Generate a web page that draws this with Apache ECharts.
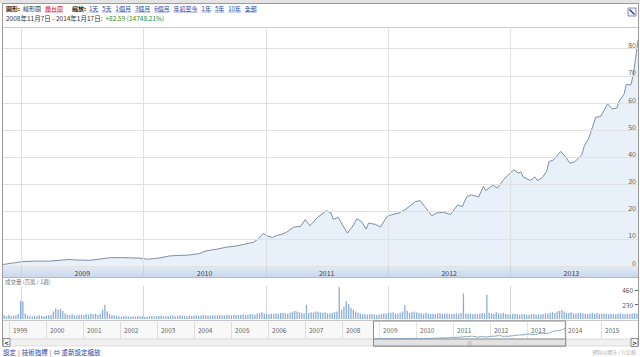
<!DOCTYPE html>
<html><head><meta charset="utf-8">
<script src="https://cdn.jsdelivr.net/npm/echarts@6/dist/echarts.min.js"></script>
<style>html,body{margin:0;padding:0;background:#fff}#c{width:640px;height:357px}</style>
</head><body><div id="c"></div>
<script>
// ---------- data ----------
const startDate = [2008, 11, 7];
const endDate = [2014, 1, 17];
const changeText = '+82.59 (14748.21%)';
const rangeText = '2008年11月7日 - 2014年1月17日:';
// price: week index from start date, weekly close
const priceWeek = [0,5,8,13,20,24,28,32,37,41,45,50,54,58,62,67,71,75,79,84,86,89,92,95,99,103,107,109,111,113,115,117,119,121,124,127,129,131,134,138,140,141,143,145,147,149,151,153,155,156,159,161,164,166,169,172,176,178,180,183,185,188,191,194,196,198,200,203,205,206,209,211,214,216,218,220,221,222,225,227,228,230,232,233,235,238,240,242,244,247,248,250,253,255,257,258,260,262,263,265,266,268,269,270,271];
const priceValue = [0.56,1.2,1.6,1.8,1.8,2.1,2.4,2.2,2.1,2.5,3.0,3.1,3.0,2.9,2.5,3.0,3.7,3.9,4.0,4.6,5.4,5.9,6.3,6.9,7.3,8.0,8.8,10.0,12.0,11.0,10.5,11.3,11.7,12.4,14.3,14.6,17.1,14.8,17.7,20.4,19.5,17.1,18.0,15.0,12.1,14.3,17.4,16.4,13.6,15.8,15.3,14.3,18.3,18.9,19.5,21.0,23.7,24.1,21.9,18.5,19.5,19.8,18.9,22.5,21.9,25.6,26.2,25.4,29.3,27.8,29.7,28.7,32.1,33.9,35.4,34.2,34.7,32.8,31.5,32.8,31.5,32.4,34.8,38.4,39.1,42.2,40.3,37.8,38.4,40.9,44.0,47.1,54.8,55.0,58.1,59.7,57.8,58.2,60.8,63.2,66.8,66.7,70.6,76.5,83.15];
// weekly volume (millions), one value per week from start date
const volumeValue = [
  60,45,70,50,55,60,80,290,280,90,
  55,45,40,50,45,60,50,45,55,60,
  70,120,170,150,160,130,90,70,60,80,
  60,55,70,65,60,80,70,90,75,85,
  70,90,150,230,120,80,60,55,50,45,
  40,45,50,40,35,45,40,50,45,40,
  35,40,45,50,40,45,50,55,45,50,
  45,50,55,45,50,60,55,50,45,55,
  50,55,60,50,55,65,60,55,50,60,
  55,60,65,60,55,70,65,60,70,65,
  60,70,75,65,70,80,75,70,85,95,
  110,90,80,75,85,80,90,85,95,100,
  90,85,100,110,130,120,110,95,90,230,
  95,110,105,120,115,105,100,110,95,90,
  100,110,120,510,150,200,290,240,180,150,
  120,100,90,80,75,70,75,80,70,65,
  70,80,90,85,95,100,110,90,85,100,
  120,220,130,100,110,120,105,95,90,85,
  100,90,80,85,75,90,95,80,85,90,
  80,75,85,90,80,95,410,90,85,80,
  75,85,80,90,95,85,390,100,90,80,
  110,90,85,95,80,75,70,80,85,75,
  70,75,80,70,65,75,80,70,75,70,
  80,90,85,100,110,95,120,130,145,120,
  100,95,110,90,85,95,100,90,85,80,
  90,100,85,95,80,90,85,80,75,85,
  80,75,85,90,80,75,85,80,90,95,
  85];
const mainYears = [2009, 2010, 2011, 2012, 2013];
const priceTicks = [0, 10, 20, 30, 40, 50, 60, 70, 80];
const volumeTicks = [230, 460];
const navYears = [1999,2000,2001,2002,2003,2004,2005,2006,2007,2008,2009,2010,2011,2012,2013,2014,2015];
const navRange = [1999, 2016];
const chartLabel = '圖形:';
const chartTypes = ['線形圖', '燭台圖'];
const zoomLabel = '縮放:';
const zoomLinks = ['1天','5天','1個月','3個月','6個月','年初至今','1年','5年','10年','全部'];
const volumeTitle = '成交量 (百萬 / 1週)';
const footerLinks = ['設定', '技術指標', '⇔ 重新設定縮放'];
const footerNote = '資料以週計 / 1/比較';

// ---------- build ----------
const FONT = '"Noto Sans CJK TC", "Noto Sans", sans-serif';
const utc = (y, m, d) => Date.UTC(y, m - 1, d);
const t0 = utc(...startDate), tEnd = utc(...endDate);
const WEEK = 7 * 864e5;
const priceData = priceWeek.map((w, i) => [Math.min(t0 + w * WEEK, tEnd), priceValue[i]]);
const volumeData = volumeValue.map((v, i) => [Math.min(t0 + (i + 0.5) * WEEK, tEnd), v]);
const yearStarts = mainYears.map(y => utc(y, 1, 1));
const yearMids = mainYears.map(y => utc(y, 7, 2));
const navStarts = navYears.map(y => utc(y, 1, 1));
const yearOf = v => String(new Date(v).getUTCFullYear());

const chart = echarts.init(document.getElementById('c'), null, {renderer: 'svg'});
const gridLine = '#e1e1e1';
const option = {
  animation: false,
  textStyle: {fontFamily: FONT},
  grid: [
    {left: 3, right: 2, top: 27, bottom: 91},
    {left: 3, right: 2, top: 286, bottom: 38},
    {left: 9, right: 2, top: 322, bottom: 18}
  ],
  xAxis: [
    {type: 'value', gridIndex: 0, min: t0, max: tEnd, z: 5,
      axisLine: {show: false},
      axisTick: {show: true, inside: false, length: 11, customValues: yearStarts, lineStyle: {color: '#c5d3e6'}},
      splitLine: {show: true, lineStyle: {color: gridLine}},
      axisLabel: {customValues: yearMids, formatter: yearOf, fontSize: 7, color: '#444', margin: 3}},
    {type: 'value', gridIndex: 1, min: t0, max: tEnd,
      axisLine: {show: false}, axisTick: {show: false, customValues: yearStarts},
      splitLine: {show: true, lineStyle: {color: '#d8d8d8'}}, axisLabel: {show: false, customValues: yearStarts}},
    {type: 'value', gridIndex: 2, min: utc(navRange[0],1,1), max: utc(navRange[1],1,1),
      axisLine: {show: false}, axisTick: {show: false, customValues: navStarts},
      splitLine: {show: true, lineStyle: {color: '#dedede'}},
      axisLabel: {customValues: navStarts, formatter: yearOf, fontSize: 6.5, color: '#666', align: 'left', padding: [0,0,0,4], margin: -12}}
  ],
  yAxis: [
    {type: 'value', gridIndex: 0, position: 'right', min: 0, max: 88, z: 10,
      axisLine: {show: false}, axisTick: {show: false, customValues: priceTicks},
      splitLine: {show: true, lineStyle: {color: gridLine}},
      axisLabel: {inside: true, customValues: priceTicks, fontSize: 7, color: '#666', margin: 2, verticalAlign: 'bottom'}},
    {type: 'value', gridIndex: 1, position: 'right', min: 0, max: 530, z: 10,
      axisLine: {show: false}, axisTick: {show: true, inside: true, length: 3, customValues: volumeTicks, lineStyle: {color: '#666'}},
      splitLine: {show: false},
      axisLabel: {inside: true, customValues: volumeTicks, fontSize: 6.5, color: '#555', margin: 5}},
    {type: 'value', gridIndex: 2, min: 0, max: 120, show: false}
  ],
  series: [
    {type: 'line', xAxisIndex: 0, yAxisIndex: 0, data: priceData, symbol: 'none', smooth: false, z: 2,
      lineStyle: {color: '#7d8ea5', width: 1},
      areaStyle: {color: '#e8f1fa', opacity: 1}},
    {type: 'bar', xAxisIndex: 1, yAxisIndex: 1, data: volumeData, barWidth: 1.3,
      itemStyle: {color: '#88acdc'}},
    {type: 'line', xAxisIndex: 2, yAxisIndex: 2, data: priceData, symbol: 'none',
      lineStyle: {color: '#8aa0bb', width: 1}}
  ]
};
chart.setOption(option);

// ---------- decorations (layout only) ----------
const ctx = document.createElement('canvas').getContext('2d');
const measure = (s, size, bold) => { ctx.font = (bold ? 'bold ' : '') + size + 'px ' + FONT; return ctx.measureText(s).width; };
const g = [];
g.push({type: 'rect', shape: {x: 0, y: 0, width: 640, height: 3}, style: {fill: '#e4e4e4'}, z: -5});
g.push({type: 'line', shape: {x1: 2, y1: 3.5, x2: 638, y2: 3.5}, style: {stroke: '#9a9a9a', lineWidth: 1}});
g.push({type: 'line', shape: {x1: 2.5, y1: 3, x2: 2.5, y2: 346}, style: {stroke: '#9a9a9a', lineWidth: 1}});
g.push({type: 'line', shape: {x1: 638.5, y1: 3, x2: 638.5, y2: 346}, style: {stroke: '#9a9a9a', lineWidth: 1}});
g.push({type: 'line', shape: {x1: 3, y1: 27.5, x2: 638, y2: 27.5}, style: {stroke: '#c8c8c8', lineWidth: 1}});
let x = 6;
const hy = 8;
const addText = (s, color, bold, underline, size, y) => {
  size = size || 6; y = y || hy;
  g.push({type: 'text', x: x, y: y, style: {text: s, fill: color, font: (bold ? 'bold ' : '') + size + 'px ' + FONT, verticalAlign: 'middle'}});
  const w = measure(s, size, bold);
  if (underline) g.push({type: 'line', shape: {x1: x, y1: y + 4, x2: x + w, y2: y + 4}, style: {stroke: color, lineWidth: 0.5}});
  x += w;
  return w;
};
addText(chartLabel, '#222', true); x += 3;
addText(chartTypes[0], '#333', false); x += 4;
addText(chartTypes[1], '#d0202e', false, true); x += 9;
addText(zoomLabel, '#222', true); x += 3;
zoomLinks.forEach(s => { addText(s, '#2447a8', false, true); x += 4; });
x = 6;
addText(rangeText, '#333', false, false, 6.5, 18); x += 3;
addText(changeText, '#2b8a2b', false, false, 6.5, 18);
g.push({type: 'rect', shape: {x: 628, y: 8, width: 8, height: 8}, style: {fill: '#eef0f6', stroke: '#6a75a8', lineWidth: 0.8}});
g.push({type: 'line', shape: {x1: 629.5, y1: 9.5, x2: 634.5, y2: 14.5}, style: {stroke: '#2a3a88', lineWidth: 1.2}});
g.push({type: 'rect', shape: {x: 3, y: 266, width: 635, height: 11},
  style: {fill: new echarts.graphic.LinearGradient(0, 0, 0, 1, [{offset: 0, color: '#e3ecf7'}, {offset: 1, color: '#c9d8ec'}])}, z: -1});
g.push({type: 'line', shape: {x1: 3, y1: 277.5, x2: 638, y2: 277.5}, style: {stroke: '#a7bcd8', lineWidth: 1}});
x = 5;
addText(volumeTitle, '#777', false, false, 5.5, 282);
g.push({type: 'line', shape: {x1: 3, y1: 320.5, x2: 638, y2: 320.5}, style: {stroke: '#c8c8c8', lineWidth: 1}});
g.push({type: 'rect', shape: {x: 3, y: 339, width: 635, height: 7}, style: {fill: '#f0f0f0', stroke: '#cfcfcf', lineWidth: 0.6}, z: -1});
g.push({type: 'rect', shape: {x: 3, y: 338.5, width: 7, height: 8}, style: {fill: '#f4f4f4', stroke: '#777', lineWidth: 0.8}});
g.push({type: 'text', x: 6.5, y: 342.5, style: {text: '<', fill: '#222', font: 'bold 7px ' + FONT, align: 'center', verticalAlign: 'middle'}});
g.push({type: 'rect', shape: {x: 631, y: 338.5, width: 7, height: 8}, style: {fill: '#f4f4f4', stroke: '#777', lineWidth: 0.8}});
g.push({type: 'text', x: 634.5, y: 342.5, style: {text: '>', fill: '#222', font: 'bold 7px ' + FONT, align: 'center', verticalAlign: 'middle'}});
x = 3;
footerLinks.forEach((s, i) => {
  addText(s, '#2447a8', false, false, 6.5, 351.5);
  if (i < footerLinks.length - 1) { x += 2; addText('|', '#555', false, false, 6.5, 351.5); x += 2; }
});
g.push({type: 'text', x: 636, y: 351.5, style: {text: footerNote, fill: '#aaa', font: '5px ' + FONT, align: 'right', verticalAlign: 'middle'}});
const wx0 = chart.convertToPixel({xAxisIndex: 2}, t0);
const wx1 = chart.convertToPixel({xAxisIndex: 2}, tEnd);
g.push({type: 'rect', shape: {x: 3, y: 321, width: wx0 - 3, height: 18}, style: {fill: 'rgba(235,235,235,0.35)'}, z: -2});
g.push({type: 'rect', shape: {x: wx0, y: 321, width: wx1 - wx0, height: 25}, style: {fill: 'rgba(255,255,255,0.25)', stroke: '#8c8c8c', lineWidth: 1}});
g.push({type: 'rect', shape: {x: wx0, y: 339, width: wx1 - wx0, height: 7}, style: {fill: '#e2e2e2', stroke: '#8c8c8c', lineWidth: 1}});
g.push({type: 'text', x: (wx0 + wx1) / 2, y: 342.5, style: {text: '|||', fill: '#888', font: '5px ' + FONT, align: 'center', verticalAlign: 'middle'}});
chart.setOption({graphic: g});
</script></body></html>
